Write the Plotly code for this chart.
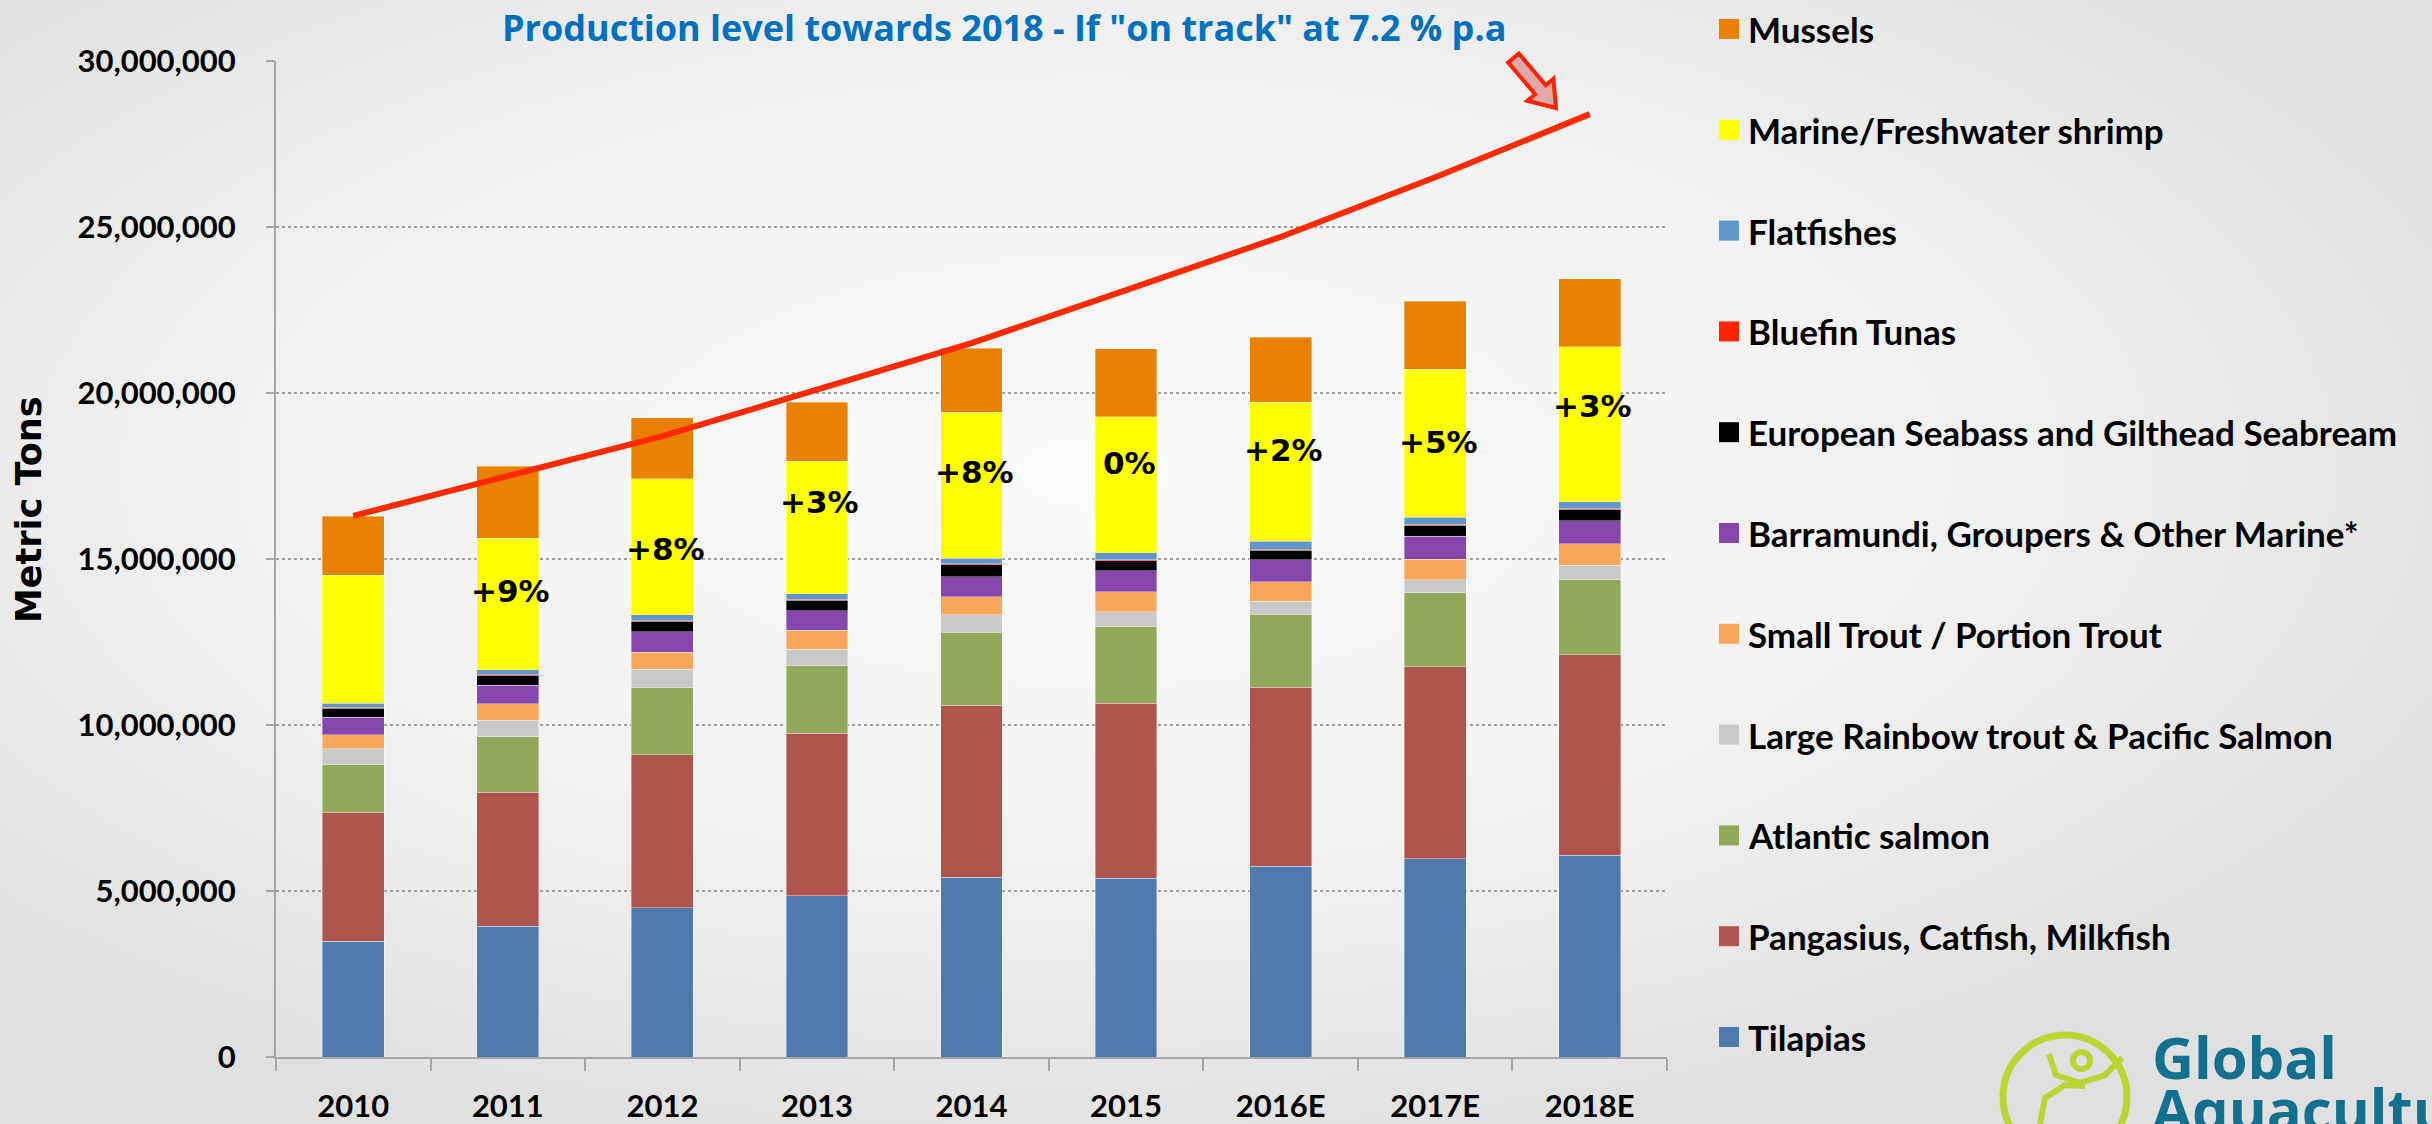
import plotly.graph_objects as go
import base64
import math

# ---------------- data (metric tons) ----------------
years = ["2010", "2011", "2012", "2013", "2014", "2015", "2016E", "2017E", "2018E"]

tilapias   = [3490000, 3940000, 4500000, 4860000, 5420000, 5380000, 5740000, 5970000, 6080000]
pangasius  = [3870000, 4040000, 4610000, 4890000, 5180000, 5280000, 5390000, 5780000, 6030000]
atlantic   = [1440000, 1660000, 2010000, 2030000, 2200000, 2300000, 2200000, 2230000, 2260000]
large_trout = [480000, 500000, 560000, 500000, 520000, 450000, 400000, 390000, 440000]
small_trout = [430000, 500000, 510000, 570000, 550000, 600000, 590000, 630000, 650000]
barramundi = [520000, 560000, 620000, 590000, 600000, 630000, 660000, 690000, 690000]
seabass    = [280000, 280000, 300000, 320000, 360000, 310000, 290000, 320000, 330000]
bluefin    = [30000, 30000, 30000, 30000, 30000, 30000, 30000, 30000, 30000]
flatfishes = [120000, 150000, 180000, 170000, 170000, 210000, 230000, 220000, 220000]
shrimp     = [3850000, 3960000, 4090000, 3980000, 4390000, 4100000, 4190000, 4450000, 4670000]
mussels    = [1780000, 2180000, 1840000, 1780000, 1930000, 2050000, 1960000, 2060000, 2040000]

on_track = [16300000, 17500000, 18700000, 20100000, 21500000, 23100000, 24700000, 26500000, 28400000]

growth_labels = ["", "+9%", "+8%", "+3%", "+8%", "0%", "+2%", "+5%", "+3%"]
growth_label_y = [None, 14050000, 15300000, 16720000, 17630000, 17890000, 18290000, 18520000, 19620000]

series_names = [
    "Tilapias", "Pangasius, Catfish, Milkfish", "Atlantic salmon",
    "Large Rainbow trout & Pacific Salmon", "Small Trout / Portion Trout",
    "Barramundi, Groupers & Other Marine*", "European Seabass and Gilthead Seabream",
    "Bluefin Tunas", "Flatfishes", "Marine/Freshwater shrimp", "Mussels",
]
series_values = [tilapias, pangasius, atlantic, large_trout, small_trout, barramundi,
                 seabass, bluefin, flatfishes, shrimp, mussels]
series_colors = ["#4f7bac", "#b0554e", "#92a85a", "#c9c9c9", "#f9a65a", "#8547ad",
                 "#000000", "#ff2500", "#6096cb", "#ffff00", "#e98100"]

title_text = 'Production level towards 2018 - If "on track" at 7.2 % p.a'
yticks = [0, 5000000, 10000000, 15000000, 20000000, 25000000, 30000000]

# ---------------- geometry helpers (pixel -> paper) ----------------
W, H = 2432, 1124
L, R, T, B = 276, 2432 - 1667, 61, 1124 - 1057
PW, PH = W - L - R, H - T - B


def px(x):
    return (x - L) / PW


def py(y):
    return (H - B - y) / PH


fig = go.Figure()

# background gradient image
svg = f'''<svg xmlns="http://www.w3.org/2000/svg" width="{W}" height="{H}" viewBox="0 0 {W} {H}" preserveAspectRatio="none">
<defs><radialGradient id="g" cx="0.45" cy="0.42" r="0.62" gradientUnits="objectBoundingBox">
<stop offset="0" stop-color="#fbfbfb"/><stop offset="0.6" stop-color="#f0f0f0"/><stop offset="1" stop-color="#e0e0e0"/></radialGradient></defs>
<rect width="{W}" height="{H}" fill="url(#g)"/></svg>'''
src = "data:image/svg+xml;base64," + base64.b64encode(svg.encode()).decode()
fig.add_layout_image(dict(source=src, xref="paper", yref="paper", x=px(0), y=py(0),
                          sizex=W / PW, sizey=H / PH, xanchor="left", yanchor="top",
                          sizing="stretch", layer="below", opacity=1))

for name, vals, col in zip(series_names, series_values, series_colors):
    fig.add_trace(go.Bar(x=years, y=vals, name=name, marker_color=col,
                         marker_line=dict(width=0.8, color="rgba(255,255,255,0.45)"),
                         width=0.4, showlegend=False))

fig.add_trace(go.Scatter(x=years, y=on_track, mode="lines", showlegend=False,
                         line=dict(color="#ff2a00", width=6), hoverinfo="skip"))

# growth labels (category index positions)
for i, (lab, yv) in enumerate(zip(growth_labels, growth_label_y)):
    if lab:
        fig.add_annotation(x=i, y=yv, xref="x", yref="y", text=lab, showarrow=False,
                           xshift=3,
                           font=dict(family="DejaVu Sans", size=31, color="black", weight="bold"))

# manual legend (top = Mussels)
leg_top, leg_step = 29, 100.8
for i, (name, col) in enumerate(zip(series_names[::-1], series_colors[::-1])):
    yc = leg_top + i * leg_step
    fig.add_shape(type="rect", xref="paper", yref="paper",
                  x0=px(1719), x1=px(1739), y0=py(yc + 10), y1=py(yc - 10),
                  fillcolor=col, line=dict(width=0))
    fig.add_annotation(xref="paper", yref="paper", x=px(1746), y=py(yc), text=name,
                       showarrow=False, xanchor="left", yanchor="middle",
                       font=dict(family="Lato", size=35, color="black", weight="bold"))

# title
fig.add_annotation(xref="paper", yref="paper", x=px(1004), y=py(27), text=title_text,
                   showarrow=False, xanchor="center", yanchor="middle",
                   font=dict(family="Open Sans", size=36, color="#0070c0", weight="bold"))

# y-axis title
fig.add_annotation(xref="paper", yref="paper", x=px(29), y=py(510), text="Metric Tons",
                   textangle=-90, showarrow=False, xanchor="center", yanchor="middle",
                   font=dict(family="DejaVu Sans", size=35, color="black", weight="bold"))

# arrow shape
S = (1513.5, 58.0)
Tp = (1556.0, 108.0)
dx, dy = Tp[0] - S[0], Tp[1] - S[1]
ln = math.hypot(dx, dy)
d = (dx / ln, dy / ln)
p = (d[1], -d[0])
J = (Tp[0] - 24 * d[0], Tp[1] - 24 * d[1])
pts = [
    (S[0] + 7 * p[0], S[1] + 7 * p[1]),
    (J[0] + 7 * p[0], J[1] + 7 * p[1]),
    (J[0] + 17 * p[0], J[1] + 17 * p[1]),
    Tp,
    (J[0] - 17 * p[0], J[1] - 17 * p[1]),
    (J[0] - 7 * p[0], J[1] - 7 * p[1]),
    (S[0] - 7 * p[0], S[1] - 7 * p[1]),
]
path = "M " + " L ".join(f"{px(a):.5f},{py(b):.5f}" for a, b in pts) + " Z"
fig.add_shape(type="path", xref="paper", yref="paper", path=path,
              fillcolor="#e0a8a8", line=dict(color="#ff2200", width=4))

# logo (approximation)
cx, cy, r = 2065, 1097, 62
fig.add_shape(type="circle", xref="paper", yref="paper",
              x0=px(cx - r), x1=px(cx + r), y0=py(cy + r), y1=py(cy - r),
              line=dict(color="#bad532", width=7), fillcolor="rgba(0,0,0,0)")
fig.add_shape(type="circle", xref="paper", yref="paper",
              x0=px(2073), x1=px(2090), y0=py(1069), y1=py(1052),
              line=dict(color="#bad532", width=6), fillcolor="rgba(0,0,0,0)")
arc = [(2049, 1054), (2056, 1075), (2080, 1083), (2105, 1075), (2122, 1058)]
fig.add_shape(type="path", xref="paper", yref="paper",
              path="M " + " L ".join(f"{px(a):.5f},{py(b):.5f}" for a, b in arc),
              line=dict(color="#bad532", width=6))
arc2 = [(2040, 1124), (2045, 1098), (2065, 1085), (2085, 1086)]
fig.add_shape(type="path", xref="paper", yref="paper",
              path="M " + " L ".join(f"{px(a):.5f},{py(b):.5f}" for a, b in arc2),
              line=dict(color="#bad532", width=6))
fig.add_annotation(xref="paper", yref="paper", x=px(2150), y=py(1056), text="Global",
                   showarrow=False, xanchor="left", yanchor="middle",
                   font=dict(family="Open Sans", size=58, color="#13708f", weight="bold"))
fig.add_annotation(xref="paper", yref="paper", x=px(2150), y=py(1108), text="Aquaculture",
                   showarrow=False, xanchor="left", yanchor="middle",
                   font=dict(family="Open Sans", size=58, color="#13708f", weight="bold"))

fig.update_layout(
    width=W, height=H,
    margin=dict(l=L, r=R, t=T, b=B, pad=0, autoexpand=False),
    barmode="stack",
    paper_bgcolor="#ececec",
    plot_bgcolor="rgba(0,0,0,0)",
    showlegend=False,
    xaxis=dict(type="category", categoryorder="array", categoryarray=years,
               range=[-0.5, 8.5], automargin=False,
               showline=True, linecolor="#a6a6a6", linewidth=2,
               ticks="outside", tickson="boundaries", ticklen=12, tickcolor="#a6a6a6",
               tickwidth=2, tickangle=0, ticklabelstandoff=21,
               tickfont=dict(family="Lato", size=31, color="black", weight="bold"),
               showgrid=False),
    yaxis=dict(range=[0, 30000000], tickvals=yticks, tickformat=",d", automargin=False,
               showline=True, linecolor="#a6a6a6", linewidth=2,
               ticks="outside", ticklen=8, tickcolor="#a6a6a6", tickwidth=2,
               ticklabelstandoff=24,
               tickfont=dict(family="Lato", size=31, color="black", weight="bold"),
               showgrid=True, gridcolor="#a0a0a0", griddash="dot", gridwidth=1.5,
               zeroline=False),
)

fig.write_html("out.html", config={"displayModeBar": False},
               post_script="document.body.style.margin='0px';document.body.style.overflow='hidden';")
